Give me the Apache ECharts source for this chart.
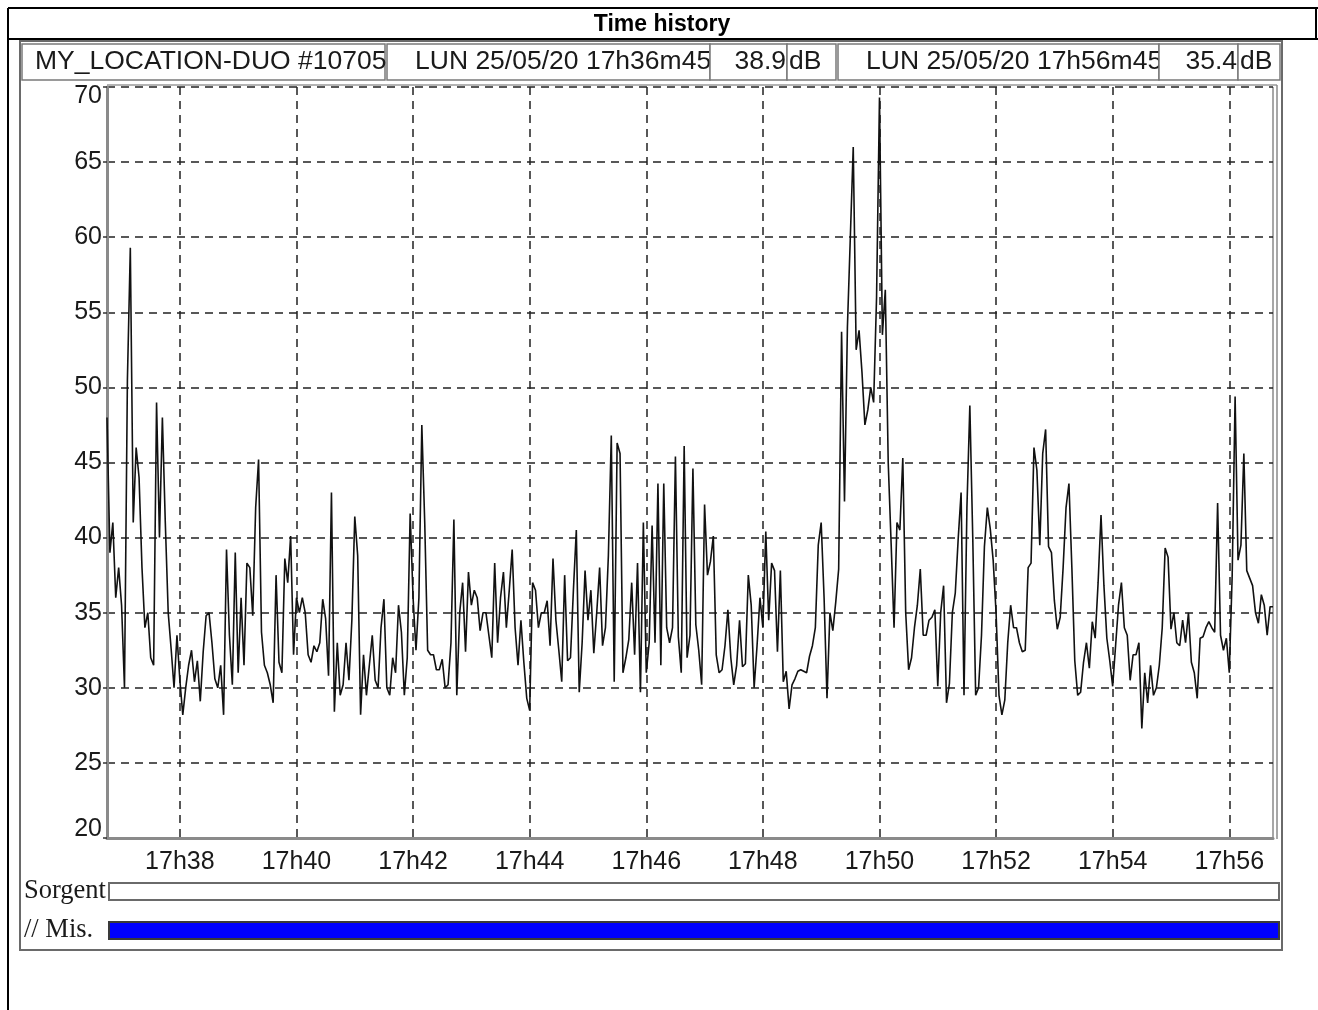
<!DOCTYPE html>
<html><head><meta charset="utf-8">
<script src="https://cdn.jsdelivr.net/npm/echarts@6/dist/echarts.min.js"></script>
<style>html,body{margin:0;padding:0;background:#fff}#chart{width:1318px;height:1010px}</style>
</head><body><div id="chart"></div>
<script>
// ---- data ----
const startSeconds = 17 * 3600 + 36 * 60 + 45;   // 17h36m45
const stepSeconds = 3;
const levels = [
  48, 39, 41, 36, 38, 35.5, 30, 50.5, 59.3, 41,
  46, 44, 38, 34, 35, 32, 31.5, 49, 40, 48,
  41, 35, 32.6, 30, 33.5, 30.5, 28.2, 30, 31.5, 32.5,
  30.4, 31.8, 29.1, 32.4, 34.8, 35, 33, 30.6, 30, 31.5,
  28.2, 39.2, 33.5, 30.2, 39, 31, 36, 31.5, 38.3, 38,
  34.8, 42, 45.2, 33.7, 31.5, 31, 30.2, 29, 37.5, 31.7,
  31, 38.6, 37, 40.1, 32.2, 36, 35, 36, 35, 32.2,
  31.7, 32.8, 32.4, 33, 35.9, 34.6, 30.8, 43, 28.4, 33,
  29.5, 30.2, 33, 30.5, 34.5, 41.4, 38.8, 28.2, 32.2, 29.5,
  31.5, 33.5, 30.5, 30, 34, 35.9, 30, 29.5, 32, 31,
  35.5, 33.7, 29.5, 32, 41.6, 36, 32.5, 36, 47.5, 41,
  32.5, 32.2, 32.2, 31.2, 31.2, 31.9, 30, 30.2, 33, 41.2,
  29.5, 35, 37, 32.4, 37.7, 35.5, 36.5, 36, 33.8, 35,
  35, 33.5, 32, 38.3, 33, 36, 37.7, 34, 36.5, 39.2,
  34, 31.5, 34.5, 31.7, 29.3, 28.5, 37, 36.5, 34, 35,
  35, 35.8, 32.8, 38.6, 34.5, 32.5, 30.4, 37.5, 31.8, 32,
  36.5, 40.5, 29.7, 33, 37.8, 34.5, 36.5, 32.3, 35, 38,
  32.8, 34, 38.8, 46.8, 30.4, 46.3, 45.6, 31, 32, 33.2,
  37, 32.2, 38.3, 29.7, 41, 31, 33, 40.8, 33, 43.6,
  31.5, 43.6, 34, 33, 34, 45.4, 33.4, 31, 46.1, 32,
  33.5, 44.6, 34.2, 32.5, 30.2, 42.2, 37.5, 38.4, 40.1, 32.2,
  31, 31.2, 32.8, 35.2, 32, 30.2, 31.5, 34.5, 31.4, 31.6,
  37.5, 35.5, 30, 32.8, 36, 34, 40.4, 34.5, 38.3, 37.8,
  32.4, 37.8, 30.4, 31.1, 28.6, 30.2, 30.6, 31.1, 31.2, 31.1,
  31, 32.1, 32.8, 34, 39.5, 41, 36, 29.3, 35, 33.8,
  35.7, 37.9, 53.7, 42.4, 54, 60, 66, 52.5, 53.8, 51,
  47.5, 48.5, 50, 49, 56, 69.3, 53.5, 56.5, 45, 39.6,
  34, 41, 40.5, 45.3, 35, 31.2, 32, 34, 35.5, 37.9,
  33.5, 33.5, 34.5, 34.7, 35.2, 30.1, 35, 36.8, 29, 30.3,
  35, 36.3, 39.9, 43, 29.5, 42, 48.8, 40, 29.5, 30,
  33.5, 39.4, 42, 40.6, 38.5, 35, 29.5, 28.2, 29.2, 33,
  35.5, 34, 34, 33, 32.4, 32.5, 38, 38.3, 46, 44.5,
  39.5, 45.6, 47.2, 39.4, 39, 35.8, 33.9, 34.7, 38, 42,
  43.6, 38, 31.8, 29.5, 29.7, 31.7, 33, 31.3, 34.4, 33.3,
  37, 41.5, 36.8, 33.3, 31.8, 30.1, 32.8, 35.5, 37, 34,
  33.5, 30.5, 32.2, 32.2, 33, 27.3, 31, 29, 31.5, 29.5,
  30, 31.5, 34, 39.3, 38.7, 33.9, 35, 33, 32.8, 34.5,
  33, 35, 31.7, 31, 29.3, 33.3, 33.4, 34, 34.4, 34,
  33.7, 42.3, 33.5, 32.5, 33.3, 31, 37.5, 49.4, 38.5, 39.5,
  45.6, 37.8, 37.3, 36.8, 35, 34.3, 36.2, 35.5, 33.5, 35.4,
  35.4
];
const tickLabels = ['17h38', '17h40', '17h42', '17h44', '17h46', '17h48', '17h50', '17h52', '17h54', '17h56'];
const headerCells = [
  { x0: 22,   x1: 385,  text: 'MY_LOCATION-DUO #10705', align: 'left',  tx: 35 },
  { x0: 387,  x1: 710,  text: 'LUN 25/05/20 17h36m45',  align: 'left',  tx: 415 },
  { x0: 710,  x1: 787,  text: '38.9',                   align: 'right', tx: 786 },
  { x0: 787,  x1: 836,  text: 'dB',                     align: 'left',  tx: 789 },
  { x0: 838,  x1: 1159, text: 'LUN 25/05/20 17h56m45',  align: 'left',  tx: 866 },
  { x0: 1159, x1: 1238, text: '35.4',                   align: 'right', tx: 1237 },
  { x0: 1238, x1: 1280, text: 'dB',                     align: 'left',  tx: 1240 }
];
const statusRows = ['Sorgent', '// Mis.'];
const statusCoverage = [1, 1];

// ---- derived categories ----
function pad2(n) { return (n < 10 ? '0' : '') + n; }
const sampleTimes = levels.map((_, i) => {
  const s = startSeconds + i * stepSeconds;
  return Math.floor(s / 3600) + 'h' + pad2(Math.floor((s % 3600) / 60)) + 'm' + pad2(s % 60);
});
const isTick = (idx, val) => val.endsWith('m00') && tickLabels.includes(val.slice(0, 5));

const SANS = "'Liberation Sans', Arial, sans-serif";
const SERIF = "'Liberation Serif', 'Times New Roman', serif";

// ---- decorative frame ----
const graphics = [
  { type: 'line', shape: { x1: 8, y1: 8, x2: 1318, y2: 8 }, style: { stroke: '#000', lineWidth: 2 } },
  { type: 'line', shape: { x1: 8, y1: 39, x2: 1318, y2: 39 }, style: { stroke: '#000', lineWidth: 2 } },
  { type: 'line', shape: { x1: 8, y1: 8, x2: 8, y2: 1010 }, style: { stroke: '#000', lineWidth: 2 } },
  { type: 'line', shape: { x1: 1316, y1: 8, x2: 1316, y2: 39 }, style: { stroke: '#000', lineWidth: 2 } },
  { type: 'text', style: { text: 'Time history', x: 662, y: 25, textAlign: 'center', textVerticalAlign: 'middle',
      font: 'bold 23px ' + SANS, fill: '#000' } },
  { type: 'rect', shape: { x: 20, y: 41, width: 1262, height: 909 }, style: { fill: 'none', stroke: '#6a6a6a', lineWidth: 2 } },
  { type: 'line', shape: { x1: 107, y1: 85, x2: 1277, y2: 85 }, style: { stroke: '#9a9a9a', lineWidth: 1.5 } },
  { type: 'line', shape: { x1: 1277, y1: 85, x2: 1277, y2: 839 }, style: { stroke: '#8a8a8a', lineWidth: 1.5 } },
  { type: 'line', shape: { x1: 1273, y1: 87, x2: 1273, y2: 839 }, style: { stroke: '#8a8a8a', lineWidth: 1.5 } }
];
headerCells.forEach(c => {
  graphics.push({ type: 'rect', shape: { x: c.x0, y: 44, width: c.x1 - c.x0, height: 36 },
    style: { fill: '#fff', stroke: '#7a7a7a', lineWidth: 1.5 } });
  graphics.push({ type: 'text', style: { text: c.text, x: c.tx, y: 62, textAlign: c.align, textVerticalAlign: 'middle',
    font: '26.5px ' + SANS, fill: '#1a1a1a' } });
});

const chart = echarts.init(document.getElementById('chart'), null, { renderer: 'canvas' });
chart.setOption({
  animation: false,
  backgroundColor: '#fff',
  graphic: graphics,
  grid: [
    { left: 107, top: 87, width: 1166, height: 751, containLabel: false },
    { left: 108, top: 872, width: 1172, height: 78, containLabel: false }
  ],
  xAxis: [
    {
      gridIndex: 0, type: 'category', data: sampleTimes, boundaryGap: false,
      axisLine: { show: true, lineStyle: { color: '#8a8a8a', width: 3 } },
      axisTick: { show: false },
      axisLabel: { interval: isTick, formatter: v => v.slice(0, 5), margin: 12,
        fontSize: 25, fontFamily: SANS, color: '#1a1a1a' },
      splitLine: { show: true, interval: isTick, lineStyle: { color: '#222', width: 1.5, type: [8, 6] } }
    },
    { gridIndex: 1, type: 'value', min: 0, max: 1, show: false }
  ],
  yAxis: [
    {
      gridIndex: 0, type: 'value', min: 20, max: 70, interval: 5,
      axisLine: { show: true, lineStyle: { color: '#8a8a8a', width: 3 } },
      axisTick: { show: true, inside: false, length: 4, lineStyle: { color: '#333', width: 1.5 } },
      axisLabel: {
        margin: 5, fontSize: 25, fontFamily: SANS, color: '#1a1a1a',
        formatter: v => v === 70 ? '{t|70}' : v === 20 ? '{b|20}' : '{n|' + v + '}',
        rich: {
          n: { fontSize: 25, fontFamily: SANS, color: '#1a1a1a' },
          t: { fontSize: 25, fontFamily: SANS, color: '#1a1a1a', padding: [18, 0, 0, 0] },
          b: { fontSize: 25, fontFamily: SANS, color: '#1a1a1a', padding: [0, 0, 18, 0] }
        }
      },
      splitLine: { show: true, lineStyle: { color: '#222', width: 1.5, type: [8, 6] } }
    },
    {
      gridIndex: 1, type: 'category', data: statusRows, inverse: true,
      axisLine: { show: false }, axisTick: { show: false },
      axisLabel: { margin: 84, align: 'left', fontSize: 26.5, fontFamily: SERIF, color: '#1a1a1a' }
    }
  ],
  series: [
    {
      type: 'line', xAxisIndex: 0, yAxisIndex: 0, data: levels,
      showSymbol: false, symbol: 'none', smooth: false,
      lineStyle: { color: '#111', width: 1.6 }
    },
    {
      type: 'bar', xAxisIndex: 1, yAxisIndex: 1, barWidth: 19, silent: true,
      data: statusCoverage.map((v, i) => ({
        value: v,
        itemStyle: i === 0
          ? { color: '#ffffff', borderColor: '#6a6a6a', borderWidth: 2 }
          : { color: '#0000ff', borderColor: '#3a3a3a', borderWidth: 2 }
      }))
    }
  ]
});
</script>
</body></html>
